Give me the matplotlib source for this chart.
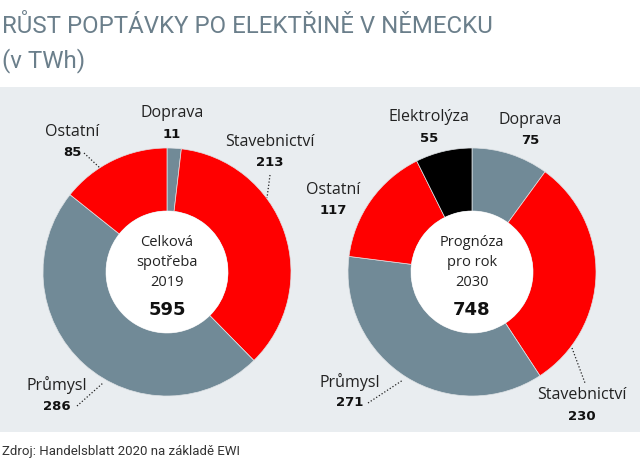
import matplotlib.pyplot as plt
from matplotlib.patches import Rectangle, Circle

# data (TWh)
sectors_2019 = ['Doprava', 'Stavebnictví', 'Průmysl', 'Ostatní']
values_2019 = [11, 213, 286, 85]
sectors_2030 = ['Doprava', 'Stavebnictví', 'Průmysl', 'Ostatní', 'Elektrolýza']
values_2030 = [75, 230, 271, 117, 55]
center_2019 = ['Celková', 'spotřeba', '2019']
center_2030 = ['Prognóza', 'pro rok', '2030']

GRAY = '#718a97'
RED = '#ff0000'
BLACK = '#000000'
PANEL = '#e9edf0'
TITLE = '#6b7f8b'

colors_2019 = [GRAY, RED, GRAY, RED]
colors_2030 = [GRAY, RED, GRAY, RED, BLACK]

W, H = 640, 468
fig = plt.figure(figsize=(6.4, 4.68), dpi=100)
fig.patch.set_facecolor('white')
ax = fig.add_axes([0, 0, 1, 1])

LBL = ['Open Sans', 'DejaVu Sans']
NUM = ['DejaVu Sans']
HEAD = ['Roboto', 'DejaVu Sans']

ax.add_patch(Rectangle((0, 87), W, 345, facecolor=PANEL, edgecolor='none', zorder=0))

R_OUT, R_IN = 124, 61


def donut(vals, cols, cx, cy, center_lines):
    ax.pie(vals, colors=cols, startangle=-90, counterclock=True,
           radius=R_OUT, center=(cx, cy),
           wedgeprops=dict(width=R_OUT - R_IN, edgecolor='#dfe3e6', linewidth=0.5))
    ax.add_patch(Circle((cx, cy), R_IN, facecolor='white', edgecolor='none', zorder=3))
    for i, line in enumerate(center_lines):
        ax.text(cx, 242 + 20 * i, line, ha='center', va='center', fontsize=10.5,
                family=LBL, color='#222222', zorder=4)
    ax.text(cx, 310, str(sum(vals)), ha='center', va='center', fontsize=13,
            fontweight='bold', family=NUM, color='#111111', zorder=4)


def label(name, val, x, y):
    ax.text(x, y, name, ha='center', va='center', fontsize=11.5, family=LBL, color='#222222')
    ax.text(x, y + 21, str(val), ha='center', va='center', fontsize=9.5,
            fontweight='bold', family=NUM, color='#111111')


def leader(p1, p2):
    ax.plot([p1[0], p2[0]], [p1[1], p2[1]], ls=(0, (1, 1.6)), color='#222222', lw=0.9, zorder=5)


donut(values_2019, colors_2019, 167, 272, center_2019)
donut(values_2030, colors_2030, 472, 272, center_2030)

# labels 2019
pos_2019 = {'Doprava': (172, 113), 'Stavebnictví': (270, 142),
            'Průmysl': (57, 385), 'Ostatní': (72, 132)}
for s, v in zip(sectors_2019, values_2019):
    label(s, v, *pos_2019[s])
leader((84, 153), (100, 168))
leader((270, 175), (267, 198))
leader((77, 406), (103, 383))

# labels 2030
pos_2030 = {'Doprava': (530, 120), 'Stavebnictví': (582, 395),
            'Průmysl': (350, 382), 'Ostatní': (333, 190), 'Elektrolýza': (429, 117)}
for s, v in zip(sectors_2030, values_2030):
    label(s, v, *pos_2030[s])
leader((368, 403), (403, 380))
leader((572, 348), (585, 383))

ax.text(2, 33, 'RŮST POPTÁVKY PO ELEKTŘINĚ V NĚMECKU', ha='left', va='baseline',
        fontsize=17.3, family=HEAD, color=TITLE)
ax.text(2, 67, '(v TWh)', ha='left', va='baseline', fontsize=17.3,
        family=HEAD, color=TITLE)
ax.text(2, 455, 'Zdroj: Handelsblatt 2020 na základě EWI', ha='left', va='baseline',
        fontsize=9.5, family=HEAD, color='#333333')

ax.set_xlim(0, W)
ax.set_ylim(H, 0)
ax.set_aspect('auto')
ax.axis('off')

fig.savefig('out.png', dpi=100, facecolor='white')
